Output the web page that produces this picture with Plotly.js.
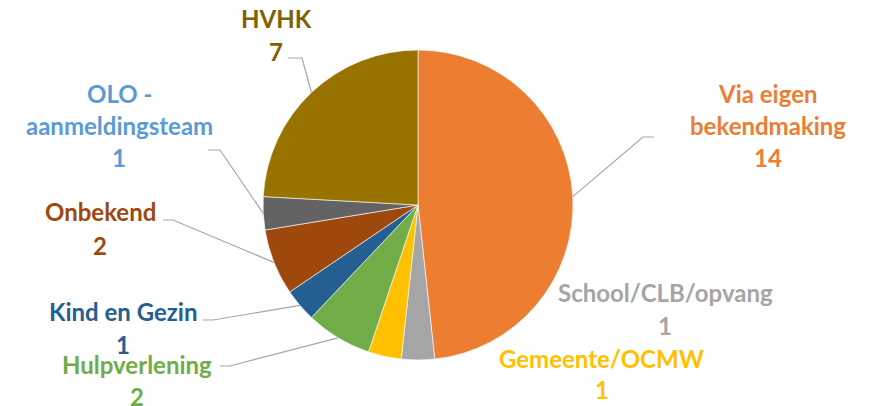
<!DOCTYPE html>
<html>
<head>
<meta charset="utf-8">
<script src="https://cdn.plot.ly/plotly-3.0.1.min.js"></script>
<style>html,body{margin:0;padding:0;background:#fff;}#chart{width:872px;height:406px;}</style>
</head>
<body>
<div id="chart"></div>
<script>
// ---- data ----
const categories = ["Via eigen bekendmaking", "School/CLB/opvang", "Gemeente/OCMW", "Hulpverlening", "Kind en Gezin", "Onbekend", "OLO - aanmeldingsteam", "HVHK"];
const values = [14, 1, 1, 2, 1, 2, 1, 7];
const sliceColors = ["#ED7D31", "#A5A5A5", "#FFC000", "#70AD47", "#255E91", "#9E480E", "#636363", "#997300"];
const labelColors = ["#ED7D31", "#A5A5A5", "#FFC000", "#70AD47", "#255E91", "#9E480E", "#5B9BD5", "#7F6000"];

// ---- layout (pixel positions) ----
const W = 872, H = 406;
const cx = 418, cy = 205, R = 155;
// wrapped label lines
const labelLines = [["Via eigen", "bekendmaking"], ["School/CLB/opvang"], ["Gemeente/OCMW"], ["Hulpverlening"], ["Kind en Gezin"], ["Onbekend"], ["OLO -", "aanmeldingsteam"], ["HVHK"]];
// label center x and first line y
const labelPos = [[768, 93], [665, 292], [602, 358], [137, 364], [123, 311], [100, 211], [119, 93], [276, 18]];
const lineGap = [32, 33, 31, 32, 33, 34, 32, 33];
// leader lines: elbow and end point (null = none)
const leaders = [[[643, 137], [654, 137]], null, null, [[230, 366], [220, 366]], [[213, 320], [203, 320]], [[173, 220], [163, 220]], [[220, 150], [208, 150]], [[302, 58], [288, 58]]];

const total = values.reduce((a, b) => a + b, 0);
const annotations = [];
const shapes = [];
let cum = 0;
values.forEach((v, i) => {
  const mid = (cum + v / 2) / total * 2 * Math.PI;
  cum += v;
  const sx = cx + R * Math.sin(mid), sy = cy - R * Math.cos(mid);
  const lines = labelLines[i].concat([String(v)]);
  lines.forEach((t, k) => {
    annotations.push({
      x: labelPos[i][0], y: labelPos[i][1] + k * lineGap[i], xref: 'x', yref: 'y',
      text: '<b>' + t + '</b>', showarrow: false, xanchor: 'center', yanchor: 'middle',
      font: {family: 'Lato, sans-serif', size: 24, color: labelColors[i]}
    });
  });
  if (leaders[i]) {
    const [e, f] = leaders[i];
    shapes.push({type: 'path', xref: 'x', yref: 'y', layer: 'below',
      path: `M ${sx} ${sy} L ${e[0]} ${e[1]} L ${f[0]} ${f[1]}`,
      line: {color: '#A6A6A6', width: 1.2}});
  }
});

const trace = {
  type: 'pie', labels: categories, values: values, sort: false, direction: 'clockwise', rotation: 0,
  marker: {colors: sliceColors, line: {color: '#ffffff', width: 0.6}},
  textinfo: 'none', hoverinfo: 'label+value', showlegend: false,
  domain: {x: [(cx - R) / W, (cx + R) / W], y: [1 - (cy + R) / H, 1 - (cy - R) / H]}
};

const layout = {
  width: W, height: H, margin: {l: 0, r: 0, t: 0, b: 0},
  paper_bgcolor: '#fff', plot_bgcolor: 'rgba(0,0,0,0)',
  xaxis: {range: [0, W], visible: false, fixedrange: true},
  yaxis: {range: [H, 0], visible: false, fixedrange: true},
  annotations: annotations, shapes: shapes, showlegend: false
};
Plotly.newPlot('chart', [trace], layout, {displayModeBar: false, staticPlot: true});
</script>
</body>
</html>
